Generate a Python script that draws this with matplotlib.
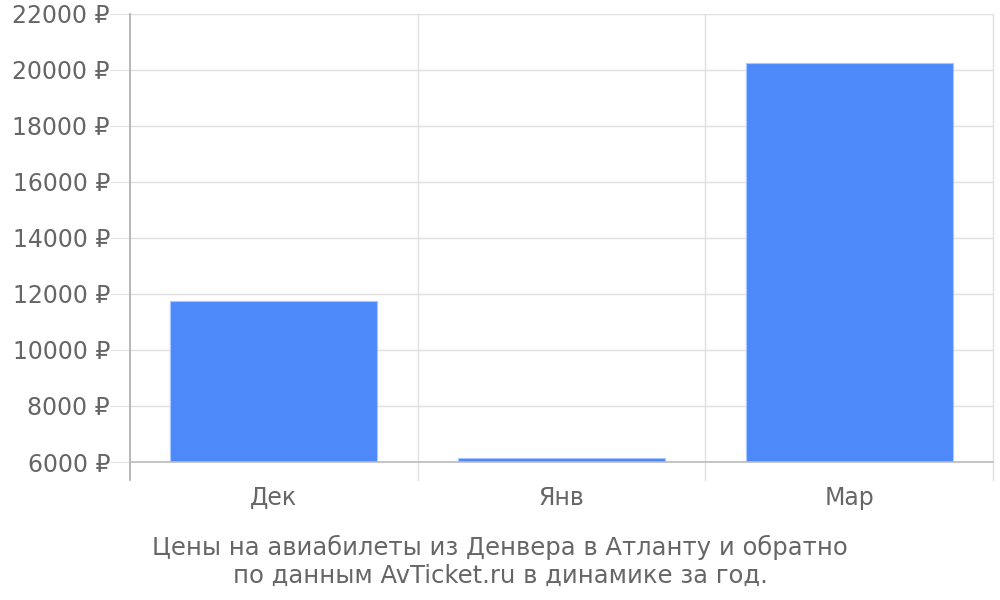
import matplotlib
matplotlib.use("Agg")
import matplotlib.pyplot as plt
import matplotlib.transforms as mtransforms

months = ["Дек", "Янв", "Мар"]
prices = [11750, 6140, 20250]
yticks = [6000, 8000, 10000, 12000, 14000, 16000, 18000, 20000, 22000]
caption = "Цены на авиабилеты из Денвера в Атланту и обратно\nпо данным AvTicket.ru в динамике за год."

txt = "#666666"
grid = "#e0e0e0"

fig = plt.figure(figsize=(10, 6), dpi=100)
ax = fig.add_axes([0.13, 0.23, 0.863, 0.7467])

x = range(len(months))
ax.bar(x, [p - 6000 for p in prices], bottom=6000, width=0.72,
       color="#4d89f9", edgecolor="#a8c6ff", linewidth=0.8, zorder=3)

ax.set_xlim(-0.5, len(months) - 0.5)
ax.set_ylim(6000, 22000)

# horizontal grid, ticks stick out under the labels
ax.set_yticks(yticks)
ax.set_yticklabels([f"{v} ₽" for v in yticks])
ax.yaxis.grid(True, color=grid, linewidth=1, zorder=0)
ax.tick_params(axis="y", length=14.4, color=grid, pad=0, labelsize=17, labelcolor=txt)

# vertical lines at the category edges, running below the axis
trans = mtransforms.blended_transform_factory(ax.transData, ax.transAxes)
for i in range(len(months) + 1):
    xe = i - 0.5
    c = "#aaaaaa" if i == 0 else grid
    ax.plot([xe, xe], [-0.04, 1], transform=trans, color=c,
            linewidth=1.2 if i == 0 else 1, clip_on=False, zorder=1 if i else 4)

ax.set_xticks(list(x))
ax.set_xticklabels(months)
ax.tick_params(axis="x", length=0, pad=17, labelsize=17, labelcolor=txt)

for s in ["top", "right", "left"]:
    ax.spines[s].set_visible(False)
ax.spines["bottom"].set_color("#bbbbbb")
ax.spines["bottom"].set_linewidth(1.2)
ax.spines["bottom"].set_zorder(4)

fig.text(0.5, 0.064, caption, ha="center", va="center", fontsize=17.5,
         color=txt, linespacing=1.2)

fig.savefig("out.png", dpi=100)
